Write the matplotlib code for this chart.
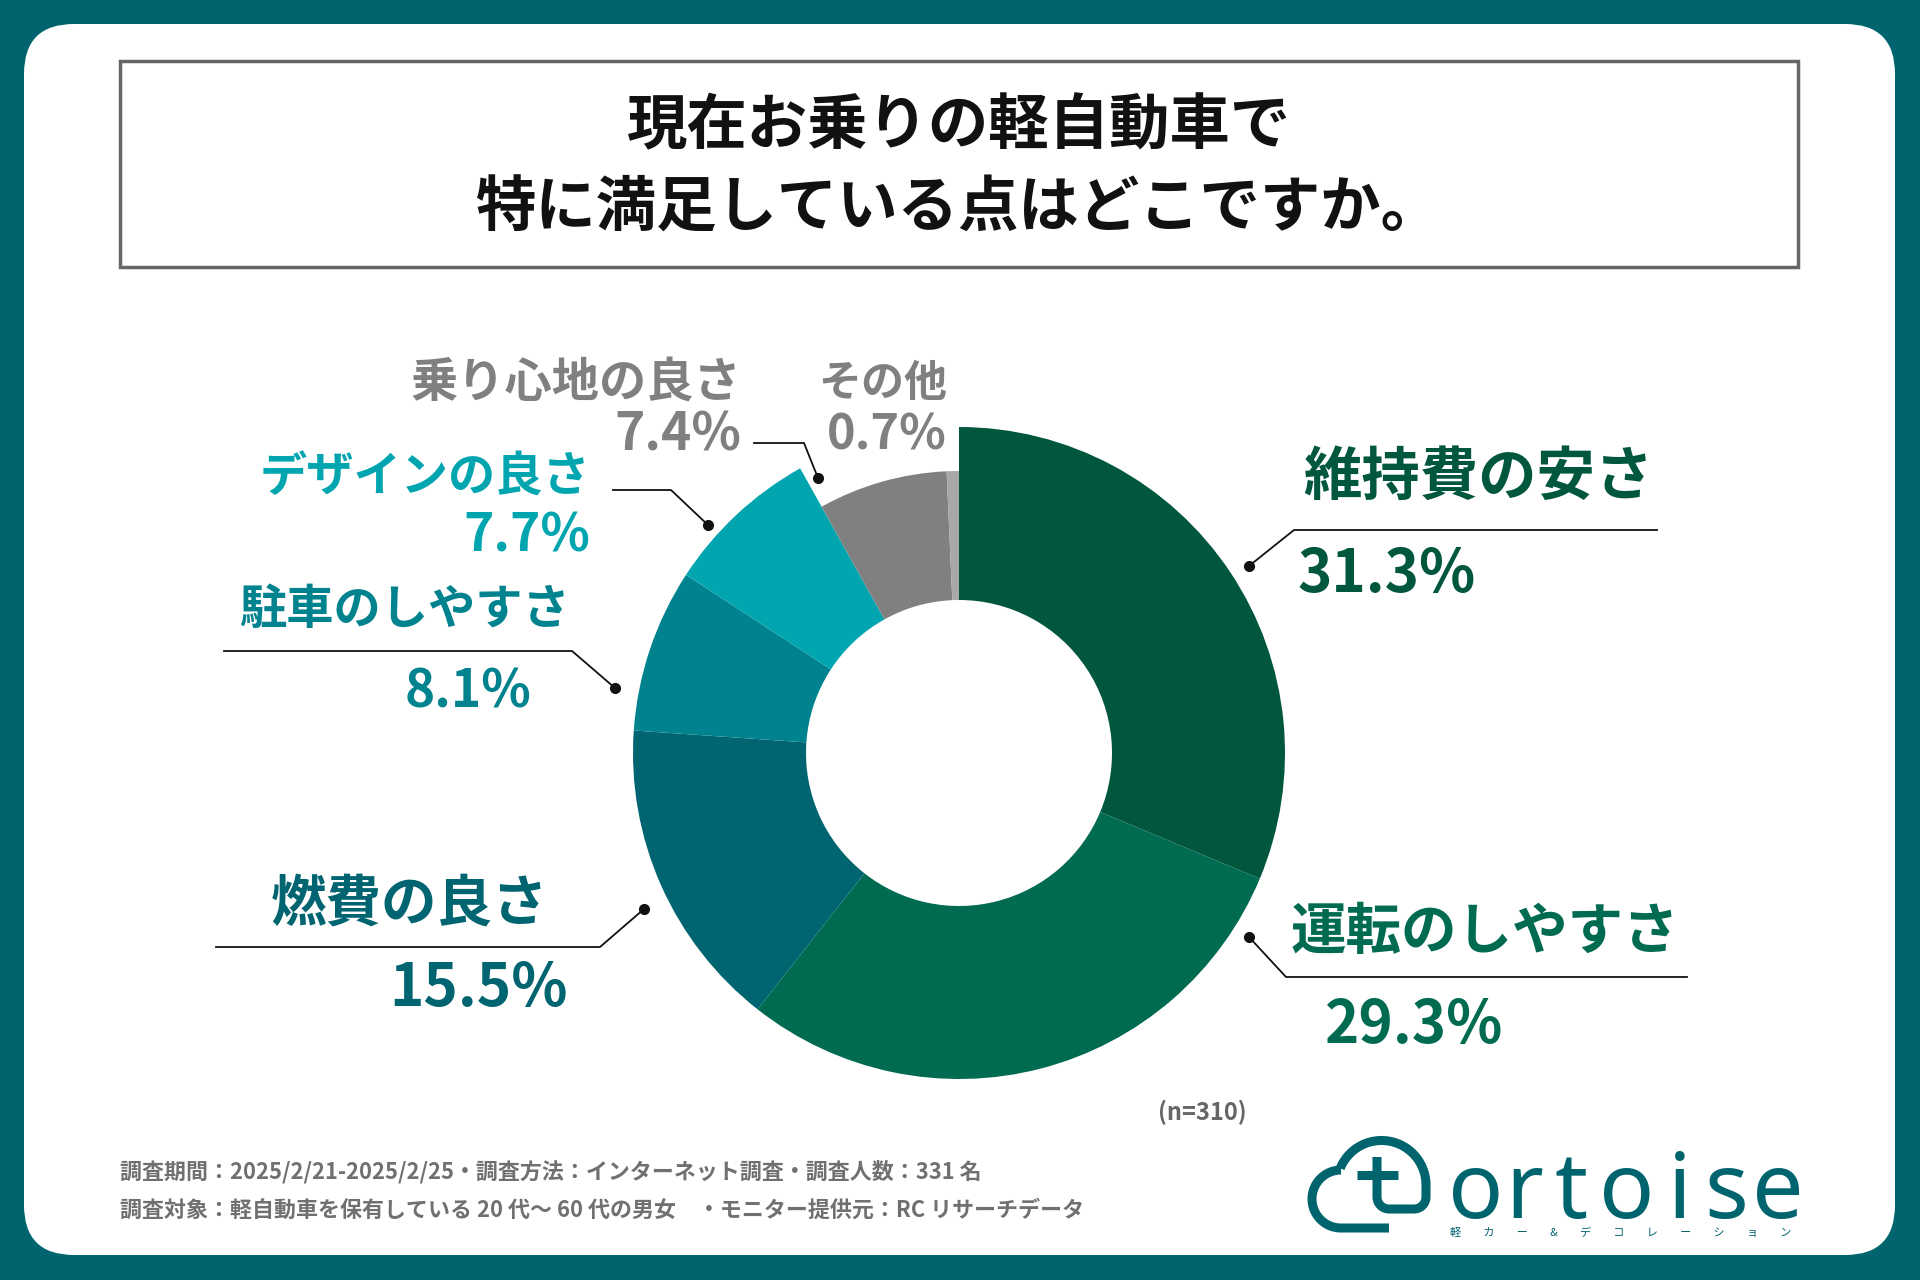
import numpy as np
import matplotlib.pyplot as plt
import matplotlib as mpl
from matplotlib.patches import FancyBboxPatch, Rectangle

mpl.rcParams['font.family'] = ['Noto Sans CJK JP', 'DejaVu Sans']

W, H = 1920, 1280

# data
labels = ['維持費の安さ', '運転のしやすさ', '燃費の良さ', '駐車のしやすさ',
          'デザインの良さ', '乗り心地の良さ', 'その他']
values = [31.3, 29.3, 15.5, 8.1, 7.7, 7.4, 0.7]
colors = ['#00573e', '#006b50', '#006570', '#00838e', '#00a5b0', '#808080', '#a8a8a8']
text_colors = ['#00573e', '#006b50', '#006570', '#00838e', '#00a5b0', '#808080', '#808080']

title = '現在お乗りの軽自動車で\n特に満足している点はどこですか。'
note1 = '調査期間：2025/2/21-2025/2/25・調査方法：インターネット調査・調査人数：331 名'
note2 = '調査対象：軽自動車を保有している 20 代～ 60 代の男女　・モニター提供元：RC リサーチデータ'
n_text = '(n=310)'
logo_sub = '軽カー&デコレーション'


def Y(y):
    # image coords (top-left origin) -> axes coords
    return H - y


def arc_pts(cx, cy, r, a0, a1, n=60):
    a = np.radians(np.linspace(a0, a1, n))
    return list(cx + r * np.cos(a)), list(cy - r * np.sin(a))


fig = plt.figure(figsize=(W / 100, H / 100), dpi=100, facecolor='#00646e')
ax = fig.add_axes([0, 0, 1, 1])

# white card
card = FancyBboxPatch((24, Y(1255)), 1871, 1231,
                      boxstyle='round,pad=0,rounding_size=50',
                      fc='white', ec='none', zorder=0)
ax.add_patch(card)

# title box
ax.add_patch(Rectangle((120, Y(267)), 1678, 206, fc='none', ec='#666666', lw=2.5, zorder=1))
t1, t2 = title.split('\n')
ax.text(959, Y(127), t1, ha='center', va='center', fontsize=43.5, fontweight='bold', color='#111111')
ax.text(959, Y(209), t2, ha='center', va='center', fontsize=43.5, fontweight='bold', color='#111111')

# donut
cx, cy, R, r_in = 959, Y(753), 326, 153
wedges = ax.pie(values, colors=colors, startangle=90, counterclock=False,
                center=(cx, cy), radius=R, frame=True, labeldistance=None,
                wedgeprops=dict(width=R - r_in, edgecolor='none'))[0]
# grey slices are drawn with a smaller outer radius
for w in wedges[5:]:
    w.set_radius(282)
    w.set_width(282 - r_in)

ax.set_xlim(0, W)
ax.set_ylim(0, H)
ax.set_aspect('auto')
ax.axis('off')

# label layout: (label xy, label ha, pct xy, label size, pct size, leader points)
layout = [
    ((1478, 478), 'center', (1387, 575), 42, 42, [(1249, 566), (1294, 530), (1657, 530)]),
    ((1485, 933), 'center', (1414, 1026), 40, 42, [(1249, 937), (1286, 977), (1687, 977)]),
    ((410, 904), 'center', (478, 989), 40, 42, [(644, 909), (600, 947), (216, 947)]),
    ((405, 610), 'center', (468, 692), 34, 37, [(615, 688), (572, 651), (224, 651)]),
    ((590, 478), 'right', (590, 536), 34, 37, [(708, 525), (671, 490), (613, 490)]),
    ((741, 383), 'right', (741, 435), 34, 37, [(818, 478), (804, 443), (754, 443)]),
    ((947, 383), 'right', (947, 435), 31, 35, None),
]

for lab, v, tc, (lxy, ha, pxy, ls, ps, pts) in zip(labels, values, text_colors, layout):
    ax.text(lxy[0], Y(lxy[1]), lab, ha=ha, va='center', fontsize=ls,
            fontweight='bold', color=tc, zorder=6)
    ax.text(pxy[0], Y(pxy[1]), f'{v:.1f}%', ha=ha, va='center', fontsize=ps,
            fontweight='bold', color=tc, zorder=6)
    if pts:
        xs = [p[0] for p in pts]
        ys = [Y(p[1]) for p in pts]
        ax.plot(xs, ys, color='#111111', lw=1.3, zorder=3)
        ax.plot(xs[0], ys[0], 'o', color='#111111', ms=7, zorder=4)

# n and notes
ax.text(1202, Y(1112), n_text, ha='center', va='center', fontsize=17,
        fontweight='bold', color='#666666')
ax.text(120, Y(1172), note1, ha='left', va='center', fontsize=15.8,
        fontweight='bold', color='#707070')
ax.text(120, Y(1210), note2, ha='left', va='center', fontsize=15.8,
        fontweight='bold', color='#707070')

# logo: cloud with a "t"
logo_c = '#00646e'
lw = 6.5
# big arc of the cloud
xs, ys = arc_pts(1381.5, 1185, 44.5, 158, 0)
# right side down, bottom hook into the t stem
xs += [1426]; ys += [1197]
hx, hy = arc_pts(1414, 1197, 12, 0, -90, 20)
xs += hx; ys += hy
hx, hy = arc_pts(1389, 1197, 12, -90, -180, 20)
xs += hx; ys += hy
xs += [1377]; ys += [1157]
ax.plot(xs, [Y(v) for v in ys], color=logo_c, lw=lw, solid_capstyle='butt',
        solid_joinstyle='round')
# small bump and base line
bx, by = arc_pts(1341, 1199, 29, 90, 270)
bx += [1389]; by += [1228]
ax.plot(bx, [Y(v) for v in by], color=logo_c, lw=lw, solid_capstyle='butt',
        solid_joinstyle='round')
# crossbar of the t
ax.plot([1357, 1398], [Y(1175), Y(1175)], color=logo_c, lw=lw, solid_capstyle='butt')

for ch, x in zip('ortoise', [1476, 1524, 1571, 1627, 1680, 1726, 1778]):
    ax.text(x, Y(1218), ch, ha='center', va='baseline', fontsize=66,
            family='Noto Sans', color=logo_c)
ax.text(1621, Y(1233), '\u3000\u3000'.join(logo_sub), ha='center', va='center',
        fontsize=8, color=logo_c)

fig.savefig('out.png', dpi=100, facecolor=fig.get_facecolor())
